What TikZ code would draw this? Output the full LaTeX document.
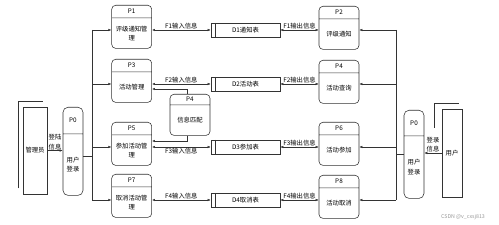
\documentclass[tikz,border=0pt]{standalone}
\usepackage{fontspec}
\setmainfont{Noto Sans CJK SC}
\usepackage{tikz}
\usetikzlibrary{arrows.meta,positioning,calc,shapes.multipart}
\newcommand{\ptop}[1]{\parbox[c][0.6cm]{2cm}{\centering #1}}
\newcommand{\pbot}[1]{\parbox[c][1.5cm]{2cm}{\centering #1}}

\begin{document}
\begin{tikzpicture}[
  x=0.05cm,y=-0.05cm,
  every node/.style={font=\fontsize{9}{13}\selectfont},
  proc/.style={rectangle split,rectangle split parts=2,draw=black!80,line width=0.8pt,rounded corners=2mm,inner sep=0pt,anchor=north},
  store/.style={draw=black!80,line width=0.8pt,minimum width=3.45cm,minimum height=0.7cm,inner sep=0pt,
    path picture={\draw ([xshift=0.2cm]path picture bounding box.north west) -- ([xshift=0.2cm]path picture bounding box.south west);}},
  entity/.style={draw=black!80,line width=0.8pt,inner sep=0pt,align=center},
  arr/.style={-{Latex[length=1.5mm,width=1.2mm]},line width=0.6pt,black!80},
  darr/.style={{Latex[length=1.5mm,width=1.2mm]}-{Latex[length=1.5mm,width=1.2mm]},line width=0.6pt,black!80},
  flow/.style={inner sep=1pt,text=black,align=center}
]
\useasboundingbox (0,0) rectangle (499,225);
% rows and buses
\coordinate (r1) at (0,30);
\coordinate (r2) at (0,84);
\coordinate (r2b) at (0,89);
\coordinate (r3) at (0,147);
\coordinate (r3b) at (0,141);
\coordinate (r4) at (0,200);
\coordinate (busl) at (92,0);
\coordinate (busr) at (396,0);
% processes
\node[proc] (p1) at (131.7,5) {\ptop{P1}\nodepart{two}\pbot{评级通知管\\理}};
\node[proc] (p3) at (131.7,59) {\ptop{P3}\nodepart{two}\pbot{活动管理}};
\node[proc] (p5) at (131.7,122) {\ptop{P5}\nodepart{two}\pbot{参加活动管\\理}};
\node[proc] (p7) at (131.7,174) {\ptop{P7}\nodepart{two}\pbot{取消活动管\\理}};
\node[proc] (p2) at (339,6) {\ptop{P2}\nodepart{two}\pbot{评级通知}};
\node[proc] (p4) at (339,60) {\ptop{P4}\nodepart{two}\pbot{活动查询}};
\node[proc] (p6) at (339,122) {\ptop{P6}\nodepart{two}\pbot{活动参加}};
\node[proc] (p8) at (339,175) {\ptop{P8}\nodepart{two}\pbot{活动取消}};
\node[proc] (pm) at (190,94) {\parbox[c][0.5cm]{2cm}{\centering P4}\nodepart{two}\pbot{信息匹配}};
\node[proc,rounded corners=2.5mm] (p0l) at (73,107) {\parbox[c][1.3cm]{1cm}{\centering P0}\nodepart{two}\parbox[c][3.05cm]{1cm}{\centering 用户\\登录}};
\node[proc,rounded corners=2.5mm] (p0r) at (414,110) {\parbox[c][1.25cm]{1cm}{\centering P0}\nodepart{two}\parbox[c][3.1cm]{1cm}{\centering 用户\\登录}};
% data stores
\node[store] (d1) at (245.5,30) {D1通知表};
\node[store] (d2) at (245.5,84) {D2活动表};
\node[store] (d3) at (245.5,147) {D3参加表};
\node[store] (d4) at (245.5,200) {D4取消表};
% external entities
\node[entity,minimum width=1.2cm,minimum height=4.35cm] (adm) at (35,150.5) {管理员};
\node[entity,minimum width=1cm,minimum height=4.4cm] (usr) at (452,153) {用户};
\draw[line width=0.8pt,black!80] ($(adm.south west)+(-0.2cm,0.3cm)$) |- ($(adm.north east)+(-0.2cm,0.25cm)$);
\draw[line width=0.8pt,black!80] ($(usr.north west)+(-0.35cm,-0.95cm)$) |- ($(usr.north east)+(-0.15cm,0.25cm)$);
\draw[arr] (adm.east) -- node[flow,above]{登陆\\信息} (adm.east -| p0l.west);
\draw[arr] (usr.west) -- node[flow,above]{登录\\信息} (usr.west -| p0r.east);
% buses
\coordinate (p0lout) at ([yshift=-0.25cm]p0l.east);
\draw[line width=0.6pt,black!80] (p0lout) -- (p0lout -| busl);
\draw[line width=0.6pt,black!80] (busl |- r1) -- (busl |- r4);
\foreach \pn/\rw in {p1/r1,p3/r2,p5/r3,p7/r4}
  \draw[arr] (busl |- \rw) -- (\pn.west |- \rw);
\draw[line width=0.6pt,black!80] (p0r.west) -- (p0r.west -| busr);
\draw[line width=0.6pt,black!80] (busr |- r1) -- (busr |- r4);
\foreach \pn/\rw in {p2/r1,p4/r2,p6/r3,p8/r4}
  \draw[arr] (busr |- \rw) -- (\pn.east |- \rw);
% flows to and from the stores
\draw[darr] (p1.east |- r1) -- node[flow,above]{F1输入信息} (d1.west);
\draw[darr] (d1.east) -- node[flow,above]{F1输出信息} (p2.west |- r1);
\draw[darr] (p3.east |- r2) -- node[flow,above]{F2输入信息} (d2.west);
\draw[darr] (d2.east) -- node[flow,above]{F2输出信息} (p4.west |- r2);
\draw[darr] (p5.east |- r3) -- node[flow,below]{F3输入信息} (d3.west);
\draw[darr] (d3.east) -- node[flow,above]{F3输出信息} (p6.west |- r3);
\draw[darr] (p7.east |- r4) -- node[flow,above]{F4输入信息} (d4.west);
\draw[darr] (d4.east) -- node[flow,above]{F4输出信息} (p8.west |- r4);
% matching
\draw[arr] ([xshift=-0.15cm]pm.north) |- (p3.east |- r2b);
\draw[arr] ([xshift=-0.15cm]pm.south) |- (p5.east |- r3b);
\node[text=black!40,font=\fontsize{7.5}{9}\selectfont] (wm) at (463,217) {CSDN @v\_cxsj813};
\end{tikzpicture}
\end{document}
